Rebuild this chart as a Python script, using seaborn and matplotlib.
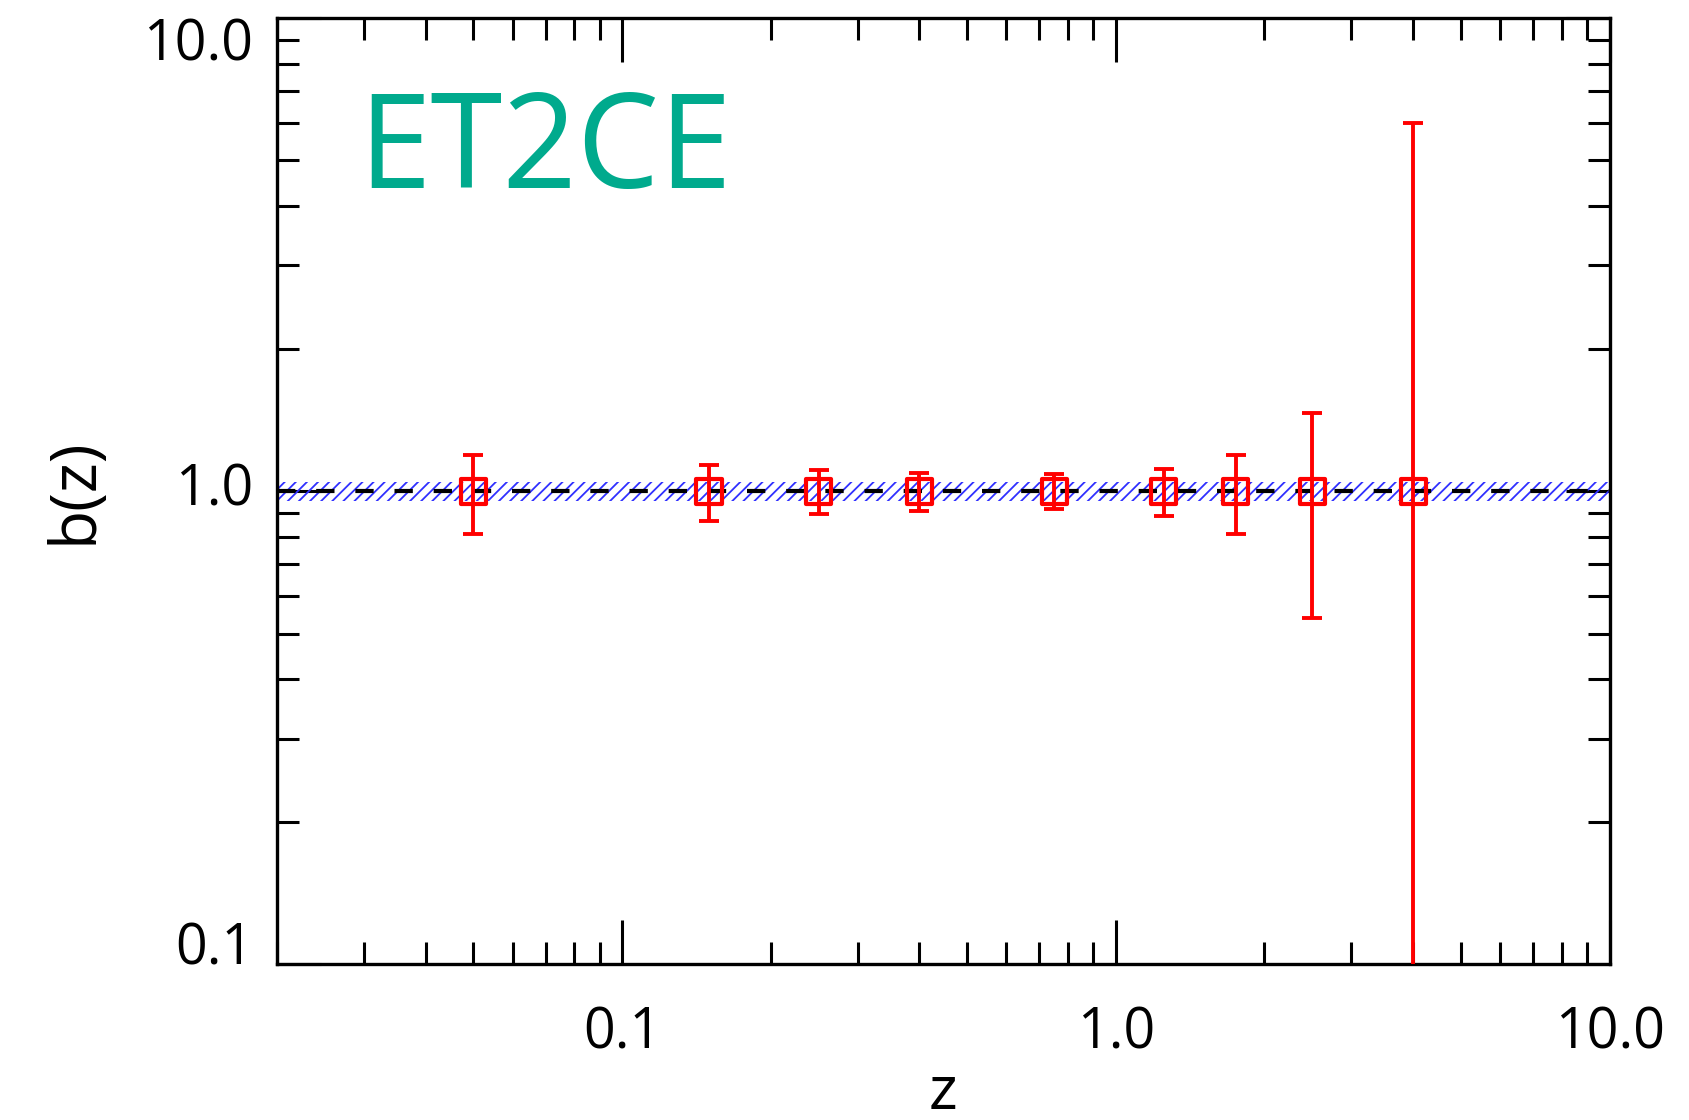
import matplotlib
matplotlib.use("Agg")
import matplotlib.pyplot as plt
import matplotlib.ticker as mticker
import numpy as np
import pandas as pd
import seaborn as sns

# ---- data ----
z_bins = [0.05, 0.15, 0.25, 0.4, 0.75, 1.25, 1.75, 2.5, 4.0]
b_values = [1.0, 1.0, 1.0, 1.0, 1.0, 1.0, 1.0, 1.0, 1.0]
b_errors = [0.19, 0.135, 0.107, 0.09, 0.085, 0.113, 0.19, 0.46, 5.0]
fiducial_b = 1.0
band_low, band_high = 0.955, 1.045
x_ticks = [0.1, 1.0, 10.0]
y_ticks = [0.1, 1.0, 10.0]
label_text = "ET2CE"

df = pd.DataFrame({"z": z_bins, "b": b_values, "err": b_errors})

sns.set_theme(style="ticks")
plt.rcParams["font.family"] = ["Open Sans", "DejaVu Sans"]
plt.rcParams["hatch.color"] = "#3030ff"
plt.rcParams["hatch.linewidth"] = 1.3
plt.rcParams["text.color"] = "black"
plt.rcParams["axes.labelcolor"] = "black"
plt.rcParams["xtick.color"] = "black"
plt.rcParams["ytick.color"] = "black"

fig = plt.figure(figsize=(16.89, 11.2), dpi=100)
ax = fig.add_axes([0.164, 0.139, 0.789, 0.845])

ax.set_xscale("log")
ax.set_yscale("log")
ax.set_xlim(0.02, 10.0)
ax.set_ylim(0.1, 10.0)

# hatched band and fiducial line
ax.axhspan(band_low, band_high, hatch="///", facecolor="none",
           edgecolor="#3030ff", linewidth=0, zorder=1)
ax.axhline(fiducial_b, color="black", lw=3.0, linestyle=(0, (4.4, 5.0)), zorder=2)

# error bars
ax.errorbar(df["z"], df["b"], yerr=df["err"], fmt="none", ecolor="red",
            elinewidth=2.8, capsize=7.5, capthick=2.8, zorder=3)
sns.scatterplot(data=df, x="z", y="b", marker="s", s=330, ax=ax,
                facecolors="none", edgecolor="red", linewidth=3.0, zorder=4,
                legend=False)

# ticks
ax.xaxis.set_major_locator(mticker.FixedLocator(x_ticks))
ax.yaxis.set_major_locator(mticker.FixedLocator(y_ticks))
ax.xaxis.set_minor_locator(mticker.LogLocator(base=10, subs=np.arange(2, 10)))
ax.yaxis.set_minor_locator(mticker.LogLocator(base=10, subs=np.arange(2, 10)))
fmt = mticker.FuncFormatter(lambda v, p: f"{v:.1f}")
ax.xaxis.set_major_formatter(fmt)
ax.yaxis.set_major_formatter(fmt)
ax.xaxis.set_minor_formatter(mticker.NullFormatter())
ax.yaxis.set_minor_formatter(mticker.NullFormatter())

ax.tick_params(which="both", direction="in", top=True, right=True,
               color="black", width=2.2)
ax.tick_params(which="major", length=32, labelsize=40, labelcolor="black")
ax.tick_params(which="minor", length=16)
ax.tick_params(axis="y", which="major", pad=17)
ax.tick_params(axis="x", which="major", pad=30)

for sp in ax.spines.values():
    sp.set_linewidth(2.4)
    sp.set_color("black")

ax.set_xlabel("z", fontsize=44)
ax.set_ylabel("b(z)", fontsize=46)
ax.yaxis.set_label_coords(-0.128, 0.5)
ax.xaxis.set_label_coords(0.5, -0.104)

ax.text(0.061, 0.82, label_text, transform=ax.transAxes, fontsize=94,
        color="#00AA8D", ha="left", va="baseline")

fig.canvas.draw()
for lab in ax.get_yticklabels():
    v = lab.get_position()[1]
    if v >= 10.0:
        lab.set_va("top")
    elif v <= 0.1:
        lab.set_va("baseline")
    else:
        lab.set_va("center")

fig.savefig("out.png", dpi=100, facecolor="white")
